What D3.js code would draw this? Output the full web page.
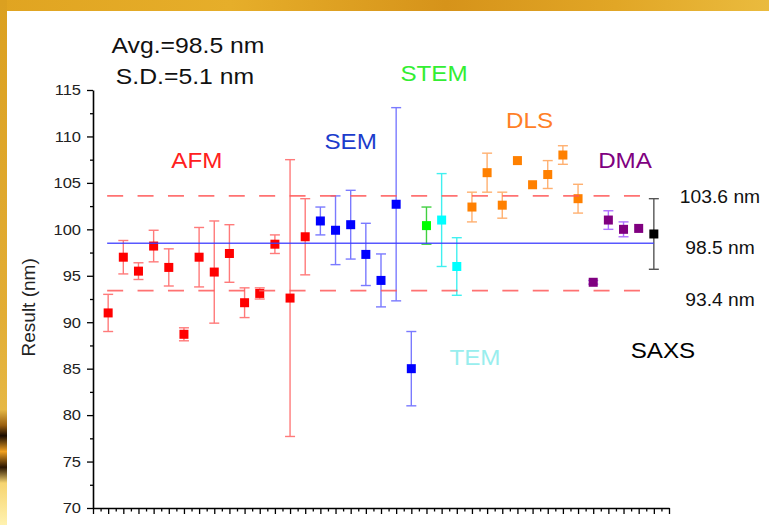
<!DOCTYPE html>
<html>
<head>
<meta charset="utf-8">
<script src="https://cdn.jsdelivr.net/npm/d3@7"></script>
<style>
  html, body { margin: 0; padding: 0; background: #fff; }
  svg { display: block; font-family: "Liberation Sans", Arial, sans-serif; }
</style>
</head>
<body>
<div id="chart"></div>
<script>
// one entry per measurement, left to right
const methods = [
  'AFM', 'AFM', 'AFM', 'AFM', 'AFM', 'AFM', 'AFM', 'AFM', 'AFM', 'AFM', 'AFM', 'AFM', 'AFM', 'AFM',
  'SEM', 'SEM', 'SEM', 'SEM', 'SEM', 'SEM', 'SEM',
  'STEM',
  'TEM', 'TEM',
  'DLS', 'DLS', 'DLS', 'DLS', 'DLS', 'DLS', 'DLS', 'DLS',
  'DMA', 'DMA', 'DMA', 'DMA',
  'SAXS'
];
const results = [
  91.0, 97.0, 95.5, 98.2, 95.9, 88.7, 97.0, 95.4, 97.4, 92.1, 93.1, 98.4, 92.6, 99.2,
  100.9, 99.9, 100.5, 97.3, 94.5, 102.7, 85.0,
  100.4,
  101.0, 96.0,
  102.4, 106.1, 102.6, 107.4, 104.8, 105.9, 108.0, 103.3,
  94.3, 101.0, 100.0, 100.1,
  99.5
];
const errors = [
  2.0, 1.8, 0.9, 1.7, 2.0, 0.7, 3.2, 5.5, 3.1, 1.6, 0.6, 1.0, 14.9, 4.1,
  1.5, 3.7, 3.7, 3.35, 2.85, 10.4, 4.0,
  2.0,
  5.0, 3.1,
  1.6, 2.1, 1.4, 0, 0, 1.5, 1.0, 1.55,
  0.2, 1.0, 0.8, 0,
  3.8
];

const average = 98.5;
const upperLimit = 103.6;
const lowerLimit = 93.4;
const yTicks = [70, 75, 80, 85, 90, 95, 100, 105, 110, 115];

const colors = {
  AFM:  { point: '#ff0000', bar: '#ff7a7a', label: '#ff2020' },
  SEM:  { point: '#0000ff', bar: '#7a7aff', label: '#1c3ccc' },
  STEM: { point: '#00ff00', bar: '#40d040', label: '#33ee33' },
  TEM:  { point: '#00ffff', bar: '#40f0f0', label: '#99eeee' },
  DLS:  { point: '#ff8000', bar: '#ffb070', label: '#ff7f27' },
  DMA:  { point: '#800080', bar: '#b070ff', label: '#800080' },
  SAXS: { point: '#000000', bar: '#555555', label: '#000000' }
};

// method names placed in the plot (x in point index, y in nm at baseline)
const methodLabels = [
  { text: 'AFM', x: 6.85, y: 106.6 },
  { text: 'SEM', x: 17.0, y: 108.7 },
  { text: 'STEM', x: 22.5, y: 116.0 },
  { text: 'TEM', x: 25.2, y: 85.35 },
  { text: 'DLS', x: 28.8, y: 110.9 },
  { text: 'DMA', x: 35.1, y: 106.6 },
  { text: 'SAXS', x: 37.6, y: 86.1 }
];

const width = 769;
const height = 525;
const stretch = 1.1;

const svg = d3.select('#chart')
  .append('svg')
  .attr('width', width)
  .attr('height', height);

// golden frame
const defs = svg.append('defs');
const topGrad = defs.append('linearGradient').attr('id', 'topGrad');
[['0%', '#e0a421'], ['30%', '#e6ae2a'], ['58%', '#d6931a'], ['80%', '#e1a626'], ['100%', '#eabb3e']]
  .forEach(s => topGrad.append('stop').attr('offset', s[0]).attr('stop-color', s[1]));
const leftGrad = defs.append('linearGradient').attr('id', 'leftGrad')
  .attr('x1', 0).attr('y1', 0).attr('x2', 0).attr('y2', 1);
[['0%', '#dba020'], ['60%', '#e2ad35'], ['78%', '#e6b845'], ['81%', '#9a6010'], ['83%', '#1a0c00'],
 ['86%', '#f0a020'], ['89%', '#2a1500'], ['92%', '#f6d470'], ['100%', '#fff2b0']]
  .forEach(s => leftGrad.append('stop').attr('offset', s[0]).attr('stop-color', s[1]));

svg.append('rect').attr('x', 0).attr('y', 0).attr('width', width).attr('height', 11).attr('fill', 'url(#topGrad)');
svg.append('rect').attr('x', 0).attr('y', 0).attr('width', 7).attr('height', height).attr('fill', 'url(#leftGrad)');

const x = d3.scaleLinear().domain([0, 38]).range([93, 669]);
const y = d3.scaleLinear().domain([70, 115]).range([508, 90]);

function stretchText(sel, k) {
  sel.each(function () {
    const w = this.getComputedTextLength();
    d3.select(this).attr('textLength', w * k).attr('lengthAdjust', 'spacingAndGlyphs');
  });
}

const points = results.map((v, i) => ({ idx: i + 1, value: v, err: errors[i], method: methods[i] }));

// axes
const yAxis = svg.append('g')
  .attr('transform', `translate(${x(0)},0)`)
  .call(d3.axisLeft(y).tickValues(yTicks).tickSize(6).tickSizeOuter(0).tickPadding(6));
svg.append('g')
  .attr('transform', `translate(${x(0)},0)`)
  .call(d3.axisLeft(y).tickValues(d3.range(72.5, 115, 5)).tickSize(3).tickFormat('').tickSizeOuter(0))
  .call(g => g.select('.domain').remove());

svg.append('g')
  .attr('transform', `translate(0,${y(70)})`)
  .call(d3.axisBottom(x).tickValues(d3.range(0, 39)).tickSize(6).tickFormat('').tickSizeOuter(0));
svg.append('g')
  .attr('transform', `translate(0,${y(70)})`)
  .call(d3.axisBottom(x).tickValues(d3.range(0.5, 38, 1)).tickSize(3.5).tickFormat('').tickSizeOuter(0))
  .call(g => g.select('.domain').remove());

svg.selectAll('.domain').attr('stroke', '#000').attr('stroke-width', 1.6);
svg.selectAll('.tick line').attr('stroke', '#000').attr('stroke-width', 1.3);

yAxis.selectAll('text')
  .attr('font-size', 15)
  .attr('font-family', '"Liberation Sans", Arial, sans-serif')
  .attr('fill', '#222')
  .call(stretchText, stretch);

svg.append('text')
  .attr('transform', `translate(35,${y(91.6)}) rotate(-90)`)
  .attr('text-anchor', 'middle')
  .attr('font-size', 19)
  .attr('fill', '#222')
  .text('Result (nm)');

// error bars
const bars = svg.append('g')
  .selectAll('g')
  .data(points.filter(d => d.err > 0))
  .enter().append('g')
  .attr('stroke', d => colors[d.method].bar)
  .attr('stroke-width', 1.4);
bars.append('line')
  .attr('x1', d => x(d.idx)).attr('x2', d => x(d.idx))
  .attr('y1', d => y(d.value + d.err)).attr('y2', d => y(d.value - d.err));
bars.append('line')
  .attr('x1', d => x(d.idx) - 5).attr('x2', d => x(d.idx) + 5)
  .attr('y1', d => y(d.value + d.err)).attr('y2', d => y(d.value + d.err));
bars.append('line')
  .attr('x1', d => x(d.idx) - 5).attr('x2', d => x(d.idx) + 5)
  .attr('y1', d => y(d.value - d.err)).attr('y2', d => y(d.value - d.err));

// markers
svg.append('g')
  .selectAll('rect')
  .data(points)
  .enter().append('rect')
  .attr('x', d => x(d.idx) - 4.5)
  .attr('y', d => y(d.value) - 4.5)
  .attr('width', 9)
  .attr('height', 9)
  .attr('fill', d => colors[d.method].point);

// average and +/- S.D. lines
svg.append('line')
  .attr('x1', x(1) - 1).attr('x2', x(37))
  .attr('y1', y(average)).attr('y2', y(average))
  .attr('stroke', '#3c3cff').attr('stroke-width', 1.3).attr('opacity', 0.85);
[upperLimit, lowerLimit].forEach(v => {
  svg.append('line')
    .attr('x1', x(1) - 1).attr('x2', x(37))
    .attr('y1', y(v)).attr('y2', y(v))
    .attr('stroke', '#ff5a5a').attr('stroke-width', 1.6)
    .attr('stroke-dasharray', '16,14.4').attr('opacity', 0.85);
});

// method names
svg.append('g')
  .selectAll('text')
  .data(methodLabels)
  .enter().append('text')
  .attr('x', d => x(d.x))
  .attr('y', d => y(d.y))
  .attr('text-anchor', 'middle')
  .attr('font-size', 22)
  .attr('fill', d => colors[d.text].label)
  .text(d => d.text)
  .call(stretchText, stretch);

// reference values at the right
const refLabels = [
  { text: upperLimit + ' nm', yPix: 203.3 },
  { text: average + ' nm', yPix: 254 },
  { text: lowerLimit + ' nm', yPix: 305.7 }
];
svg.append('g')
  .selectAll('text')
  .data(refLabels)
  .enter().append('text')
  .attr('x', 720)
  .attr('y', d => d.yPix)
  .attr('text-anchor', 'middle')
  .attr('font-size', 17.5)
  .attr('fill', '#111')
  .text(d => d.text)
  .call(stretchText, stretch);

// summary
svg.append('text')
  .attr('x', 188).attr('y', 52.7)
  .attr('text-anchor', 'middle')
  .attr('font-size', 22.5)
  .attr('fill', '#111')
  .text('Avg.=' + average + ' nm')
  .call(stretchText, stretch);
svg.append('text')
  .attr('x', 185).attr('y', 84)
  .attr('text-anchor', 'middle')
  .attr('font-size', 22.5)
  .attr('fill', '#111')
  .text('S.D.=5.1 nm')
  .call(stretchText, stretch);
</script>
</body>
</html>
